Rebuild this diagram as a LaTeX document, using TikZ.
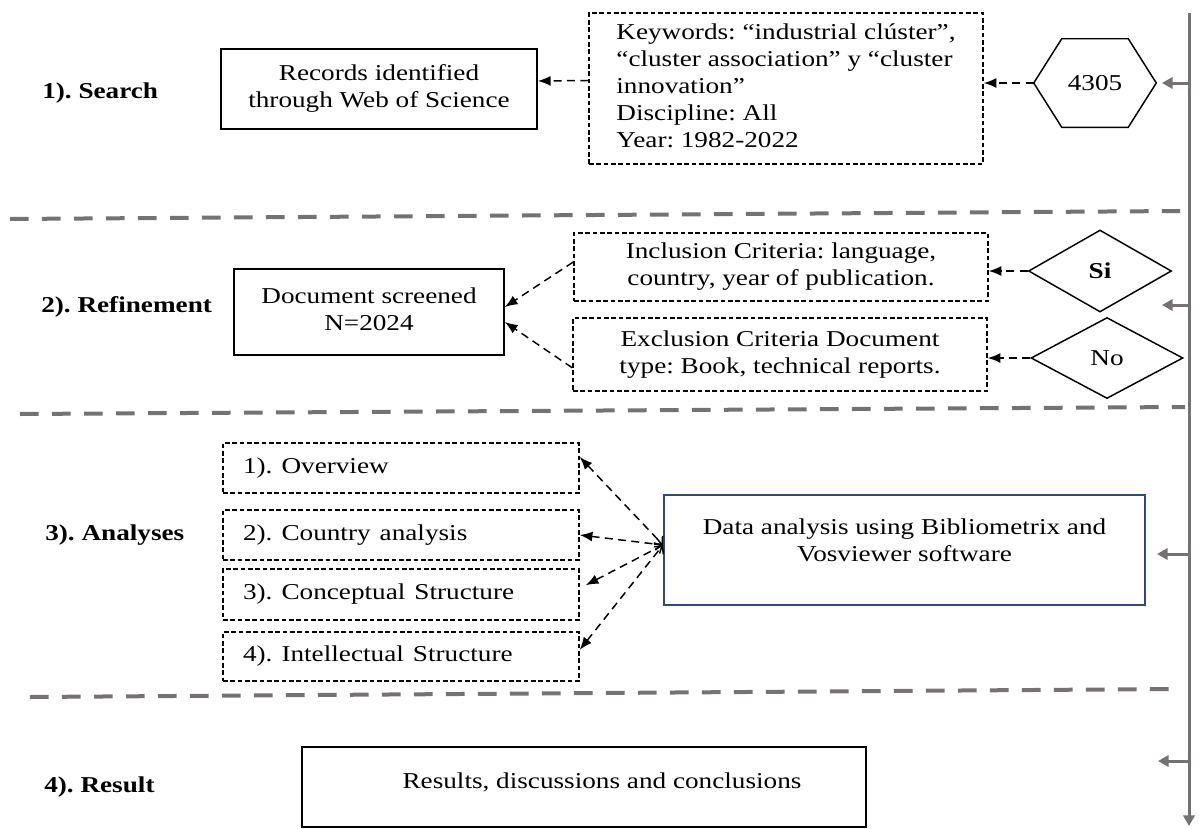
\documentclass[tikz,border=0pt]{standalone}
\usepackage{fontspec}
\setmainfont{Liberation Serif}
\usepackage{graphicx}
\usetikzlibrary{arrows.meta,shapes.geometric,calc}
\definecolor{railgray}{RGB}{118,114,114}
\definecolor{boxblue}{RGB}{47,72,128}
\frenchspacing
% slightly widened type, single line or stacked lines
\newcommand{\wide}[1]{\scalebox{1.2}[1]{#1}}
\newcommand{\lines}[2][c]{\wide{\begin{tabular}{@{}#1@{}}#2\end{tabular}}}

\begin{document}
\begin{tikzpicture}[x=0.75pt,y=-0.75pt,
  every node/.style={font=\fontsize{17}{20.25}\selectfont, inner sep=0pt},
  box/.style={draw=black, line width=1.3pt, rectangle},
  dbox/.style={draw=black, line width=1.1pt, dash pattern=on 3.5pt off 2pt, rectangle},
  itembox/.style={dbox, minimum width=267pt, text width=237pt, inner xsep=15pt, align=left},
  choice/.style={diamond, draw=black, line width=1.1pt},
  conn/.style={draw=black, line width=1.1pt, dash pattern=on 6pt off 4pt, -{Latex[length=9.5pt,width=7.5pt]}},
  biconn/.style={draw=black, line width=1.1pt, dash pattern=on 6pt off 4pt, {Latex[length=9.5pt,width=7.5pt]}-{Straight Barb[length=4.5pt,width=9pt]}},
  railarrow/.style={draw=railgray, line width=2.25pt, -{Triangle[length=8pt,width=8.5pt]}},
  sep/.style={draw=railgray, line width=3pt, dash pattern=on 14pt off 10pt},
  lbl/.style={anchor=west, font=\fontsize{17}{20.25}\selectfont\bfseries}]

\useasboundingbox (0,0) rectangle (1199,828);

% stage separators
\draw[sep] (10,219) -- (1180,211);
\draw[sep] (20,414) -- (1185,407);
\draw[sep] (30,697) -- (1175,689);

% stage labels
\node[lbl] (l1) at (42,93) {\wide{1). Search}};
\node[lbl] (l2) at (41,307) {\wide{2). Refinement}};
\node[lbl] (l3) at (45,535) {\wide{3). Analyses}};
\node[lbl] (l4) at (44,787) {\wide{4). Result}};

% 1) search
\node[box, minimum width=237pt, minimum height=60pt] (rec) at (379,89)
  {\lines{Records identified\\through Web of Science}};
\node[dbox, minimum width=295.5pt, minimum height=113.25pt] (kw) at (786,88.5)
  {\lines[l]{Keywords: “industrial clúster”,\\“cluster association” y “cluster\\innovation”\\Discipline: All\\Year: 1982-2022}};
\node[minimum width=91.5pt, minimum height=66pt] (hex) at (1095,83) {\wide{4305}};
\draw[line width=1.1pt] (hex.west) -- ([xshift=21pt]hex.north west) -- ([xshift=-21pt]hex.north east)
  -- (hex.east) -- ([xshift=-21pt]hex.south east) -- ([xshift=21pt]hex.south west) -- cycle;

% 2) refinement
\node[box, minimum width=202.5pt, minimum height=64.5pt] (doc) at (369,312)
  {\lines{Document screened\\N=2024}};
\node[dbox, minimum width=310.5pt, minimum height=51pt] (inc) at (781,267)
  {\lines{Inclusion Criteria: language,\\country, year of publication.}};
\node[dbox, minimum width=310.5pt, minimum height=54.75pt] (exc) at (780,354.5)
  {\lines{Exclusion Criteria Document\\type: Book, technical reports.}};
\node[choice, minimum width=107.25pt, minimum height=61.5pt] (si) at (1100,271) {\wide{\textbf{Si}}};
\node[choice, minimum width=114pt, minimum height=60.75pt] (no) at (1107,358) {\wide{No}};

% 3) analyses
\node[itembox, minimum height=37.5pt] (ov) at (401,468) {\wide{1). Overview}};
\node[itembox, minimum height=37.5pt] (cou) at (401,535) {\wide{2). Country analysis}};
\node[itembox, minimum height=38.25pt] (con) at (401,594.5) {\wide{3). Conceptual Structure}};
\node[itembox, minimum height=36.75pt] (int) at (401,656.5) {\wide{4). Intellectual Structure}};
\node[draw=boxblue, line width=1.5pt, minimum width=360.75pt, minimum height=82.5pt] (data) at (904.5,550) {};
\node (datatxt) at (904.5,543) {\lines{Data analysis using Bibliometrix and\\Vosviewer software}};

% 4) result
\node[box, minimum width=423pt, minimum height=60pt] (res) at (584,787) {};
\node (restxt) at (602,782) {\wide{Results, discussions and conclusions}};

% connectors
\draw[conn] ([yshift=6pt]kw.west) -- ([yshift=6pt]rec.east);
\draw[conn] (hex.west) -- (hex.west -| kw.east);
\draw[conn] ([yshift=3.75pt]inc.west) -- ([yshift=3.75pt]doc.east);
\draw[conn] ([yshift=-10pt]exc.west) -- ([yshift=-7.5pt]doc.east);
\draw[conn] (si.west) -- (si.west -| inc.east);
\draw[conn] (no.west) -- (no.west -| exc.east);

\coordinate (hub) at ([yshift=3.75pt]data.west);
\draw[biconn] ([yshift=8.25pt]ov.east) -- (hub);
\draw[biconn] (cou.east) -- (hub);
\draw[biconn] ([xshift=4.5pt,yshift=7pt]con.east) -- (hub);
\draw[biconn] ([yshift=5pt]int.east) -- (hub);

% process rail on the right
\coordinate (railtop) at (1189,13);
\coordinate (railbot) at (1189,826);
\draw[railarrow] (railtop) -- (railbot);
\foreach \yy/\tt [count=\i] in {83/1162, 305/1162, 554/1157, 761/1158} {
  \coordinate (rs\i) at (1189,\yy);
  \coordinate (rt\i) at (\tt,\yy);
  \draw[railarrow] (rs\i) -- (rt\i);
}
\end{tikzpicture}
\end{document}
